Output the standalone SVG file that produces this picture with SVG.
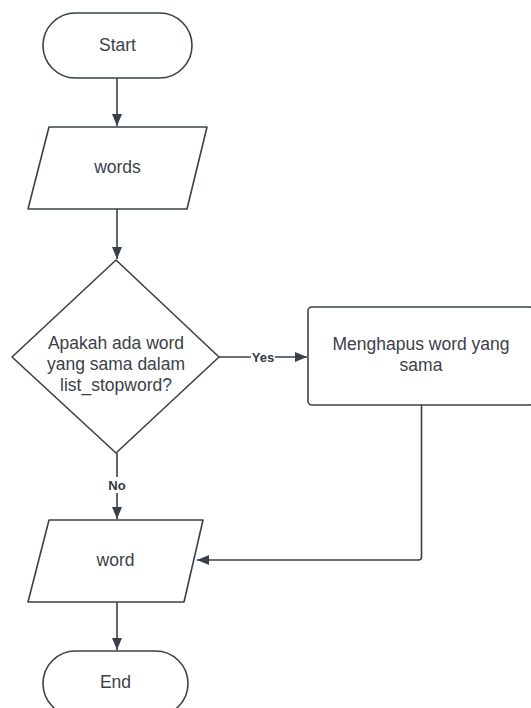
<svg xmlns="http://www.w3.org/2000/svg" width="531" height="708" viewBox="0 0 531 708">
<style>
.s{fill:#fff;stroke:#3a414a;stroke-width:1.6;stroke-linejoin:round}
.t{font-family:"Liberation Sans",Arial,sans-serif;font-size:17.5px;fill:#3a414a;text-anchor:middle}
.l{font-family:"Liberation Sans",Arial,sans-serif;font-size:13px;font-weight:bold;fill:#333a44;text-anchor:middle}
.c{fill:none;stroke:#3a414a;stroke-width:1.6}
</style>
<defs>
<marker id="a" viewBox="0 0 12 10" refX="12" refY="5" markerWidth="12" markerHeight="10" markerUnits="userSpaceOnUse" orient="auto">
<path d="M0,0 L12,5 L0,10 Z" fill="#3a414a"/>
</marker>
</defs>
<rect width="531" height="708" fill="#fff"/>
<g id="connectors">
<path class="c" d="M117,78 V126" marker-end="url(#a)"/>
<path class="c" d="M117,209 V259" marker-end="url(#a)"/>
<path class="c" d="M219,357 H251 M275,357 H307" marker-end="url(#a)"/>
<path class="c" d="M117,453 V477 M117,493 V519" marker-end="url(#a)"/>
<path class="c" d="M421.5,405 V557 Q421.5,560 418.5,560 H197" marker-end="url(#a)"/>
<path class="c" d="M117,602 V650" marker-end="url(#a)"/>
<text class="l" x="263" y="361.5">Yes</text>
<text class="l" x="117" y="489.5">No</text>
</g>
<g id="start">
<rect class="s" x="43" y="13" width="149" height="65" rx="32.5"/>
<text class="t" x="117.5" y="51">Start</text>
</g>
<g id="words">
<path class="s" d="M49,127 H207 L187,209 H28 Z"/>
<text class="t" x="117.5" y="173">words</text>
</g>
<g id="decision">
<path class="s" d="M116,260 L219,357 L116,453 L12,357 Z"/>
<text class="t" x="116" y="349">Apakah ada word</text>
<text class="t" x="116" y="370">yang sama dalam</text>
<text class="t" x="116" y="391">list_stopword?</text>
</g>
<g id="hapus">
<rect class="s" x="308" y="307" width="226" height="98" rx="4"/>
<text class="t" x="421" y="350">Menghapus word yang</text>
<text class="t" x="421" y="371">sama</text>
</g>
<g id="word">
<path class="s" d="M49,520 H203 L184,602 H28 Z"/>
<text class="t" x="115.5" y="566">word</text>
</g>
<g id="end">
<rect class="s" x="43" y="651" width="145" height="65" rx="32.5"/>
<text class="t" x="115.5" y="688">End</text>
</g>
</svg>
